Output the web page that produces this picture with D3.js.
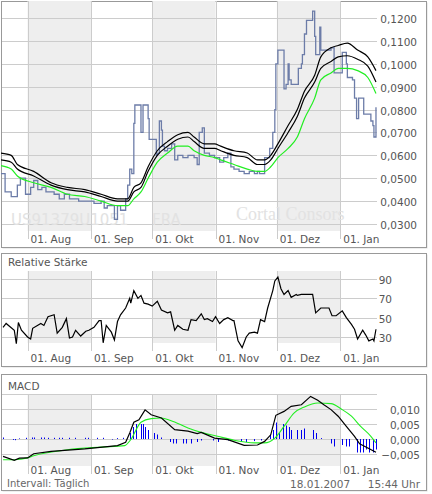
<!DOCTYPE html><html><head><meta charset="utf-8"><script src="https://cdn.jsdelivr.net/npm/d3@7"></script>
<style>body{margin:0;background:#fff}text{font-family:"DejaVu Sans",Verdana,sans-serif}</style></head><body><svg id="c" width="432" height="494"></svg>
<script>
// days since 2006-07-19
const priceDays=[0,2,5,8,9.5,12,14.5,16,18,20,22,26,28.5,31,33.5,36,38,42.5,45.5,49,50.5,52,55.5,57,58.5,61,62,63,64,65,65.5,67.5,68.5,69.5,71,72,72.5,75,76,76.5,77.5,78.5,79,80,81.5,83.5,85,86.5,89,91.5,94.5,96,97,98.5,99.5,102,104.5,107,109,111,112.5,114,116.5,119,121.5,124,125.5,126.5,129,131.5,133,134,134.5,135.5,138,138.5,139.5,140.5,141,142,145,145.5,147,147.5,148.5,149.5,152.5,153.5,154,156,156.5,160.5,161.5,163,166.5,167,169,169.5,172,173,174,175,176,177.5,179.5,181,182,182.5,183.5];
const priceVals=[.052,.044,.042,.047,.050,.043,.046,.049,.045,.046,.044,.043,.041,.043,.041,.041,.040,.040,.039,.040,.037,.038,.032,.038,.036,.041,.047,.054,.052,.074,.082,.082,.070,.082,.082,.076,.067,.067,.060,.061,.075,.071,.064,.062,.063,.065,.058,.060,.059,.060,.059,.056,.070,.072,.061,.060,.059,.057,.059,.061,.055,.054,.053,.052,.053,.052,.053,.052,.059,.063,.070,.080,.100,.106,.106,.089,.091,.100,.093,.091,.091,.098,.100,.104,.113,.119,.123,.112,.104,.116,.106,.106,.107,.096,.096,.105,.100,.094,.093,.085,.076,.085,.085,.078,.078,.075,.073,.068,.081];
const maDays=[0,5,8,16,24.5,32.5,41,49,57,62,65,68.5,72,76.5,81.5,86.5,91.5,94.5,99.5,104.5,107.5,114,120.5,125.5,129,132,135.5,140.5,145,148.5,153.5,156.5,161.5,165,169.5,174.5,179.5,183.5];
const maUpper=[.061,.060,.056,.053,.048,.046,.045,.043,.041,.041,.046,.048,.055,.062,.066,.069,.070,.068,.065,.065,.064,.062,.061,.058,.058,.060,.065,.073,.080,.088,.095,.103,.107,.108,.109,.106,.103,.097];
const maMid=[.058,.057,.054,.051,.047,.045,.044,.042,.040,.040,.044,.046,.053,.060,.064,.067,.068,.066,.063,.063,.062,.060,.059,.056,.056,.058,.063,.070,.077,.085,.092,.098,.101,.103,.1035,.102,.099,.092];
const maGreen=[.0555,.054,.051,.048,.046,.043,.042,.040,.038,.038,.041,.044,.050,.057,.061,.064,.064,.062,.060,.059,.058,.056,.054,.053,.053,.055,.059,.063,.068,.076,.085,.093,.096,.098,.098,.097,.094,.087];
const rsiDays=[1,2.5,6.5,7.5,8.5,10,13,14.5,15.5,19.5,21,23,26,27.5,30,32,33.5,35,36.5,39,41.5,43,45.5,48,49,50,51.5,54,55.5,57,58.5,61,63,63.5,65,67,68.5,70,72,74,76.5,78.5,81.5,83,85,86.5,89,91.5,93,95.5,98,99.5,101,103.5,105,107,109,111,113.5,114,116,118,120,121.5,124,125.5,127,129,130.5,133,134,135.5,137,138.5,140.5,142,144.5,145,147,150,152.5,154,156.5,160.5,162,164,167,169,171.5,173,174.5,177,178.5,180,182,182.5,183.5];
const rsiVals=[40,44,37,23,45,37,30,28,39,44,42,51,53,34,40,49,29,30,37,31,36,37,40,47,47,24,42,35,27,46,53,60,70,65,78,70,73,65,64,62,67,58,55,56,37,42,38,37,48,47,54,48,49,46,51,44,48,50,47,47,26,19,30,34,35,34,48,46,60,78,88,92,80,74,78,71,74,73,74,74,74,55,60,60,52,52,57,50,43,38,28,37,32,26,28,26,38];
const macdDays=[1,6.5,9,13,16,24.5,41,57,61,63,65,67.5,70.5,73.5,78.5,85,91.5,96,98,104.5,111,119,125.5,129,132,134.5,138.5,142,147,151.5,155,158,161.5,165,169,173,175.5,179.5,183.5];
const macdVals=[-.0058,-.0071,-.0064,-.0063,-.0049,-.0041,-.0033,-.0022,-.0011,.002,.0056,.0064,.0097,.0081,.007,.0031,.0026,.0018,.0022,.0003,-.0002,-.0021,-.002,-.0008,.0014,.0079,.0092,.0109,.0114,.0142,.0129,.0114,.0098,.0076,.0042,.0009,-.0016,-.003,-.0044];
const sigDays=[1,6.5,13,16,32.5,49,60.5,63.5,68.5,73.5,78.5,83,91.5,98,106,114,124,129,134,138.5,143.5,148.5,155,161.5,166.5,171.5,176,181,183.5];
const sigVals=[-.0069,-.0069,-.0063,-.0056,-.0036,-.0027,-.0022,-.0002,.0056,.0068,.007,.0062,.0037,.0022,.0009,-.0004,-.0013,-.0013,.0003,.0042,.0087,.0107,.012,.0118,.01,.0076,.0042,.0009,-.0013];
const histDays=[1,6,7,9,12,15,16,19.5,21,23,26,28.5,30,33.5,36,41,42.5,47,50,54.5,57,59.5,63,64.5,66,68.5,69.5,70.5,72,75,76.5,78.5,82.5,84,85.5,89,90.5,93,96,98,103.5,106,111,117.5,120,124,127,131.5,133,134.5,136,138,139.5,141,142,145,147,148.5,152.5,154,156.5,161.5,163,167,169,170.5,174,175.5,177,178.5,180,182,183.5];
const histVals=[.0005,-.0003,-.0004,.0002,.0004,.0005,.0005,.0005,.0005,.0004,.0004,.0004,.0004,.0004,.0004,.0004,.0004,.0004,.0004,-.0002,.0003,.0004,.002,.004,.005,.005,.005,.004,.003,.002,.0015,.0005,-.001,-.0015,-.0015,-.0015,-.0015,-.0015,-.001,-.0005,-.0005,-.001,-.0005,-.001,-.001,-.0007,-.0005,.0015,.003,.0055,.002,.005,.0045,.004,.003,.003,.003,.0035,.003,.002,.0003,-.0015,-.0025,-.002,-.0025,-.0025,-.0045,-.0045,-.0045,-.0035,-.0045,-.0045,-.0035];
const monthTicks=["01. Aug","01. Sep","01. Okt","01. Nov","01. Dez","01. Jan"];
const priceTicks=[.03,.04,.05,.06,.07,.08,.09,.10,.11,.12];
const rsiTicks=[30,50,70,90];
const macdTicks=[-.005,0,.005,.010];

const svg=d3.select("#c");
const t0=new Date(2006,6,19);
const dayDate=d=>new Date(t0.getTime()+d*864e5);
const x=d3.scaleTime().domain([t0,new Date(2007,0,19)]).range([1,377]);
const monthDates=[new Date(2006,7,1),new Date(2006,8,1),new Date(2006,9,1),new Date(2006,10,1),new Date(2006,11,1),new Date(2007,0,1)];
const fmt=v=>d3.format(".4f")(v).replace(".",",");

function panel(y0,y1,shadeTop,shadeBot,gridTop){
  svg.append("rect").attr("x",2.5).attr("y",y0+1.5).attr("width",425).attr("height",y1-y0).attr("fill","#ddd");
  svg.append("rect").attr("x",1.5).attr("y",y0+.5).attr("width",425).attr("height",y1-y0).attr("fill","#fff").attr("stroke","#999");
  [[0,1],[2,3],[4,5]].forEach(([a,b])=>svg.append("rect").attr("x",x(monthDates[a])).attr("y",shadeTop).attr("width",x(monthDates[b])-x(monthDates[a])).attr("height",shadeBot-shadeTop).attr("fill","#eeeeee"));
  monthDates.forEach((m,i)=>{
    svg.append("line").attr("x1",Math.round(x(m))+.5).attr("x2",Math.round(x(m))+.5).attr("y1",gridTop).attr("y2",shadeBot+8).attr("stroke","#ccc");
  });
}
function dateLabels(y){monthDates.forEach((m,i)=>svg.append("text").attr("x",x(m)+3).attr("y",y).attr("font-size",10.5).attr("fill","#555").text(monthTicks[i]));}
function hgrid(scale,ticks,f,dx){
  ticks.forEach(t=>{const yy=Math.round(scale(t))+.5;
    svg.append("line").attr("x1",2).attr("x2",377).attr("y1",yy).attr("y2",yy).attr("stroke","#ccc");
    svg.append("text").attr("x",dx).attr("y",yy+4).attr("text-anchor","end").attr("font-size",10.5).attr("fill","#555").text(f(t));});
}

// main
panel(1,247,1,231,1);
const yP=d3.scaleLinear().domain([.03,.12]).range([224,18]);
hgrid(yP,priceTicks,fmt,417);
svg.append("text").attr("x",11).attr("y",225).attr("font-size",15).attr("fill","#e2e2e2").text("US91379U1051");
svg.append("text").attr("x",152).attr("y",225).attr("font-size",15).attr("fill","#e2e2e2").text("FRA");
svg.append("text").attr("x",236).attr("y",220).attr("font-size",18).style("font-family","'Liberation Serif',serif").attr("fill","#e2e2e2").text("Cortal Consors");
dateLabels(243);
const lp=(ds,vs,ys,c)=>d3.line().x((d,i)=>x(dayDate(ds[i]))).y((d,i)=>ys(vs[i]))(vs.map((v,i)=>i));
const stepL=d3.line().curve(d3.curveStepAfter).x(i=>x(dayDate(priceDays[i]))).y(i=>yP(priceVals[i]));
svg.append("path").attr("d",stepL(priceVals.map((v,i)=>i))).attr("fill","none").attr("stroke","#6c7ca8").attr("stroke-width",1.3);
const sm=(ds,vs,ys)=>d3.line().curve(d3.curveMonotoneX).x(i=>x(dayDate(ds[i]))).y(i=>ys(vs[i]))(vs.map((v,i)=>i));
svg.append("path").attr("d",sm(maDays,maGreen,yP)).attr("fill","none").attr("stroke","#22ee22").attr("stroke-width",1.2);
svg.append("path").attr("d",sm(maDays,maMid,yP)).attr("fill","none").attr("stroke","#000").attr("stroke-width",1.2);
svg.append("path").attr("d",sm(maDays,maUpper,yP)).attr("fill","none").attr("stroke","#000").attr("stroke-width",1.2);

// RSI
panel(253,366,271,343,271);
const yR=d3.scaleLinear().domain([30,90]).range([337,279]);
hgrid(yR,rsiTicks,d=>d,392);
svg.append("text").attr("x",8).attr("y",266).attr("font-size",10.5).attr("fill","#555").text("Relative Stärke");
dateLabels(362);
svg.append("path").attr("d",lp(rsiDays,rsiVals,yR)).attr("fill","none").attr("stroke","#000").attr("stroke-width",1.2);

// MACD
panel(374,490,394,466,394);
const yM=d3.scaleLinear().domain([0,.01]).range([439,409]);
[.015].forEach(t=>svg.append("line").attr("x1",2).attr("x2",377).attr("y1",Math.round(yM(t))+.5).attr("y2",Math.round(yM(t))+.5).attr("stroke","#ccc"));
hgrid(yM,macdTicks,v=>d3.format(".3f")(v).replace(".",","),420);
svg.append("text").attr("x",8).attr("y",390).attr("font-size",10.5).attr("fill","#555").text("MACD");
dateLabels(474);
histVals.forEach((v,i)=>{const xx=Math.round(x(dayDate(histDays[i])))+.5;
  svg.append("line").attr("x1",xx).attr("x2",xx).attr("y1",yM(0)).attr("y2",yM(v)).attr("stroke","#0000ee").attr("stroke-width",1);});
svg.append("path").attr("d",sm(sigDays,sigVals,yM)).attr("fill","none").attr("stroke","#22ee22").attr("stroke-width",1.1);
svg.append("path").attr("d",lp(macdDays,macdVals,yM)).attr("fill","none").attr("stroke","#000").attr("stroke-width",1.2);
svg.append("text").attr("x",7).attr("y",487).attr("font-size",10).attr("fill","#666").text("Intervall: Täglich");
svg.append("text").attr("x",290).attr("y",488).attr("font-size",10.5).attr("fill","#666").text("18.01.2007");
svg.append("text").attr("x",420).attr("y",488).attr("text-anchor","end").attr("font-size",10.5).attr("fill","#666").text("15:44 Uhr");
</script></body></html>
